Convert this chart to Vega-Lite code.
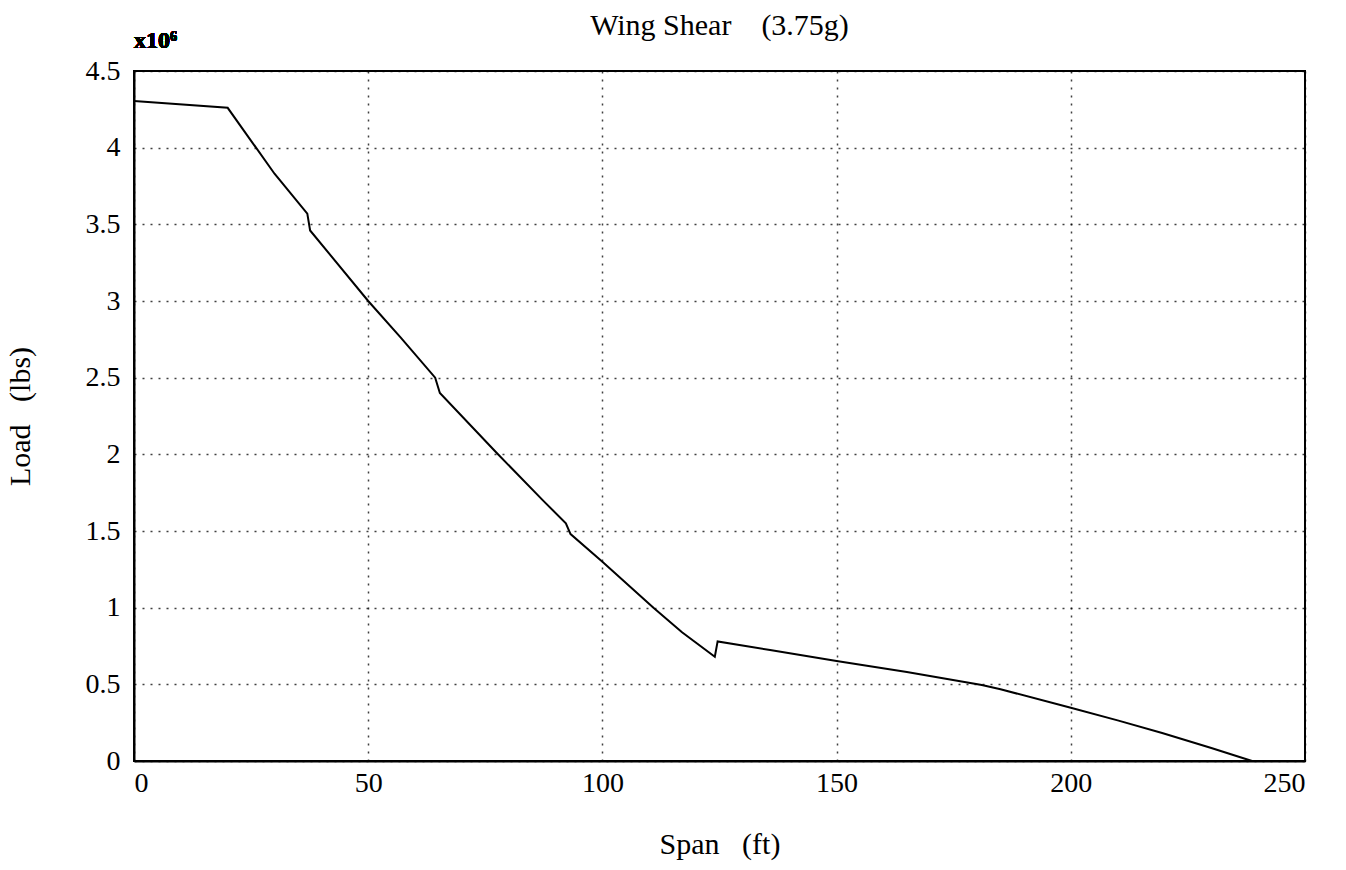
{
  "$schema": "https://vega.github.io/schema/vega-lite/v6.json",
  "autosize": "none",
  "width": 1171,
  "height": 690,
  "padding": {"left": 134, "top": 71, "right": 41, "bottom": 109},
  "background": "white",
  "config": {
    "font": "Liberation Serif",
    "view": {"stroke": "black", "strokeWidth": 2},
    "axis": {
      "labelFont": "Liberation Serif",
      "labelFontSize": 28,
      "labelColor": "black",
      "titleFont": "Liberation Serif",
      "titleFontSize": 30,
      "titleFontWeight": "normal",
      "titleColor": "black",
      "domainColor": "black",
      "domainWidth": 2,
      "ticks": false,
      "grid": true,
      "gridColor": "black",
      "gridDash": [2, 6],
      "gridWidth": 1.5,
      "gridOpacity": 0.75
    }
  },
  "title": {
    "text": "Wing Shear\u00a0\u00a0\u00a0\u00a0(3.75g)",
    "font": "Liberation Serif",
    "fontSize": 30,
    "fontWeight": "normal",
    "color": "black",
    "baseline": "alphabetic",
    "frame": "group",
    "offset": -36
  },
  "data": {
    "values": [
      {"span": 0, "load": 4.305},
      {"span": 20, "load": 4.26},
      {"span": 30, "load": 3.83},
      {"span": 37, "load": 3.57},
      {"span": 37.6, "load": 3.46},
      {"span": 50, "load": 3.0},
      {"span": 57, "load": 2.76},
      {"span": 64.3, "load": 2.5},
      {"span": 65.3, "load": 2.4},
      {"span": 77.4, "load": 2.01},
      {"span": 87.3, "load": 1.7},
      {"span": 92.2, "load": 1.55},
      {"span": 93.2, "load": 1.48},
      {"span": 100, "load": 1.3},
      {"span": 110.9, "load": 1.0},
      {"span": 117, "load": 0.84},
      {"span": 124, "load": 0.68},
      {"span": 124.6, "load": 0.78},
      {"span": 135.8, "load": 0.724},
      {"span": 150, "load": 0.652},
      {"span": 165, "load": 0.58},
      {"span": 181, "load": 0.495},
      {"span": 185, "load": 0.468},
      {"span": 200, "load": 0.347},
      {"span": 210, "load": 0.265},
      {"span": 219.5, "load": 0.183},
      {"span": 230, "load": 0.085},
      {"span": 238.7, "load": 0.0}
    ]
  },
  "layer": [
    {
      "mark": {"type": "line", "color": "black", "strokeWidth": 2},
      "encoding": {
        "x": {
          "field": "span",
          "type": "quantitative",
          "scale": {"domain": [0, 250], "nice": false, "zero": false},
          "axis": {"values": [0, 50, 100, 150, 200, 250], "title": "Span\u00a0\u00a0\u00a0(ft)", "labelPadding": 8, "titlePadding": 32}
        },
        "y": {
          "field": "load",
          "type": "quantitative",
          "scale": {"domain": [0, 4.5], "nice": false},
          "axis": {"values": [0, 0.5, 1, 1.5, 2, 2.5, 3, 3.5, 4, 4.5], "format": "~g", "title": "Load\u00a0\u00a0\u00a0(lbs)", "labelPadding": 14, "titlePadding": 50}
        }
      }
    },
    {
      "mark": {"type": "text", "text": "x10\u2076", "align": "left", "baseline": "alphabetic", "dy": -23, "dx": 0, "font": "Liberation Serif", "fontSize": 24, "fontWeight": "bold", "color": "black"},
      "encoding": {
        "x": {"datum": 0, "type": "quantitative"},
        "y": {"datum": 4.5, "type": "quantitative"}
      }
    }
  ]
}
